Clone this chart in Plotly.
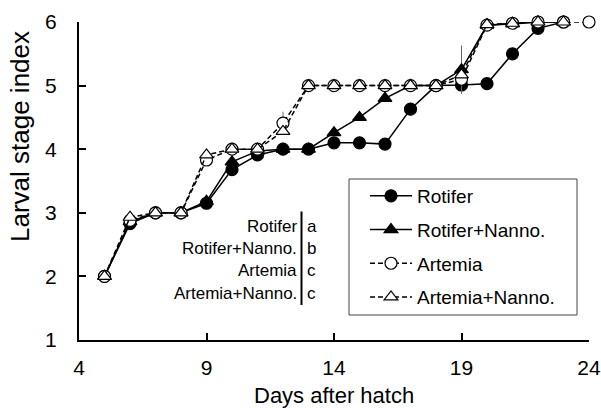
import plotly.graph_objects as go

# Days after hatch and mean larval stage index for each diet
days = list(range(5, 25))

rotifer = [2.0, 2.83, 3.0, 3.0, 3.15, 3.68, 3.91, 4.0, 4.0, 4.1, 4.1, 4.08, 4.63, 5.0, 5.01, 5.03, 5.5, 5.9, 6.0]
rotifer_nanno = [2.0, 2.86, 3.0, 3.0, 3.18, 3.8, 3.97, 4.0, 4.0, 4.26, 4.5, 4.8, 5.0, 5.0, 5.25, 5.95, 5.97, 6.0, 6.0]
artemia = [2.0, 2.88, 3.0, 3.0, 3.83, 4.0, 4.0, 4.41, 5.0, 5.0, 5.0, 5.0, 5.0, 5.0, 5.1, 5.95, 5.98, 6.0, 6.0, 6.0]
artemia_nanno = [2.0, 2.93, 3.0, 3.0, 3.91, 4.0, 4.0, 4.28, 5.0, 5.0, 5.0, 5.0, 5.0, 5.0, 5.17, 5.96, 5.98, 6.0, 6.0]

# Standard deviations (0 where the bar is hidden by the marker)
rotifer_sd = [0, 0, 0, 0, 0, 0, 0, 0, 0, 0, 0, 0, 0.1, 0, 0, 0, 0.08, 0, 0]
rotifer_nanno_sd = [0, 0, 0, 0, 0, 0, 0, 0, 0, 0, 0, 0, 0, 0, 0.38, 0, 0, 0, 0]
artemia_sd = [0, 0, 0, 0, 0, 0, 0, 0.18, 0, 0, 0, 0, 0, 0, 0, 0, 0, 0, 0, 0]
artemia_nanno_sd = [0] * 19

# Significance groups
groups = ["Rotifer", "Rotifer+Nanno.", "Artemia", "Artemia+Nanno."]
letters = ["a", "b", "c", "c"]

x_ticks = [4, 9, 14, 19, 24]
y_ticks = [1, 2, 3, 4, 5, 6]

FONT = "Liberation Sans, Arial, sans-serif"

series = [
    ("Rotifer", rotifer, rotifer_sd, "circle", "black", "solid"),
    ("Rotifer+Nanno.", rotifer_nanno, rotifer_nanno_sd, "triangle-up", "black", "solid"),
    ("Artemia", artemia, artemia_sd, "circle", "white", "dash"),
    ("Artemia+Nanno.", artemia_nanno, artemia_nanno_sd, "triangle-up", "white", "dash"),
]

W, H = 601, 408
L, R, T, B = 79, 12, 22, 68
pw, ph = W - L - R, H - T - B


def px_to_paper(xp, yp):
    return (xp - L) / pw, (H - B - yp) / ph


fig = go.Figure()
for i, (name, vals, sd, sym, fill, dash) in enumerate(series):
    fig.add_trace(go.Scatter(
        x=days[:len(vals)], y=vals, name=name, mode="lines+markers",
        legendgroup=f"g{i}", cliponaxis=False,
        line=dict(color="black", width=1.5, dash="5px,3px" if dash == "dash" else "solid"),
        marker=dict(symbol=sym, size=12, color=fill, line=dict(color="black", width=1.2)),
        error_y=dict(type="data", array=sd, visible=True, color="#666666", thickness=1, width=0),
    ))

# Significance letters table
row_y = [226.7, 249, 270.7, 293.3]
for g, l, ry in zip(groups, letters, row_y):
    gx, gy = px_to_paper(299, ry)
    fig.add_annotation(x=gx, y=gy, xref="paper", yref="paper", text=g, showarrow=False,
                       font=dict(size=17, family=FONT, color="black"), xanchor="right", yanchor="middle")
    lx_, ly_ = px_to_paper(305, ry)
    fig.add_annotation(x=lx_, y=ly_, xref="paper", yref="paper", text=l, showarrow=False,
                       font=dict(size=17, family=FONT, color="black"), xanchor="left", yanchor="middle")

x0, y0 = px_to_paper(301.5, 211.5)
x1, y1 = px_to_paper(301.5, 305)
fig.add_shape(type="line", xref="paper", yref="paper", x0=x0, y0=y0, x1=x1, y1=y1,
              line=dict(color="black", width=2))

# Legend frame
bx0, by0 = px_to_paper(349, 179)
bx1, by1 = px_to_paper(577, 315)
fig.add_shape(type="rect", xref="paper", yref="paper", x0=bx0, y0=by1, x1=bx1, y1=by0,
              line=dict(color="#444444", width=1), fillcolor="white", layer="above")

# Axis titles
tx, ty = px_to_paper(20, 137)
fig.add_annotation(x=tx, y=ty, xref="paper", yref="paper", text="Larval stage index", showarrow=False,
                   textangle=-90, xanchor="center", yanchor="middle",
                   font=dict(size=26, family=FONT, color="black"))
ax, ay = px_to_paper(334, 395)
fig.add_annotation(x=ax, y=ay, xref="paper", yref="paper", text="Days after hatch", showarrow=False,
                   xanchor="center", yanchor="middle",
                   font=dict(size=22, family=FONT, color="black"))

lgx, lgy = px_to_paper(365, 177)
fig.update_layout(
    template="none",
    width=W, height=H,
    margin=dict(l=L, r=R, t=T, b=B, autoexpand=False),
    paper_bgcolor="white", plot_bgcolor="white",
    font=dict(family=FONT, size=21, color="black"),
    showlegend=True,
    legend=dict(x=lgx, y=lgy, xanchor="left", yanchor="top", borderwidth=0,
                bgcolor="rgba(0,0,0,0)", font=dict(size=19, family=FONT), tracegroupgap=6,
                itemwidth=42),
    xaxis=dict(range=[4, 24], tickvals=x_ticks, showline=True, linecolor="black", linewidth=2,
               ticks="inside", ticklen=7, tickwidth=2, tickcolor="black", showgrid=False,
               zeroline=False, tickfont=dict(size=21), ticklabelstandoff=8, automargin=False),
    yaxis=dict(range=[1, 6], tickvals=y_ticks, showline=True, linecolor="black", linewidth=2,
               ticks="inside", ticklen=7, tickwidth=2, tickcolor="black", showgrid=False,
               zeroline=False, tickfont=dict(size=21), ticklabelstandoff=16, automargin=False),
)

fig.write_html("out.html")
